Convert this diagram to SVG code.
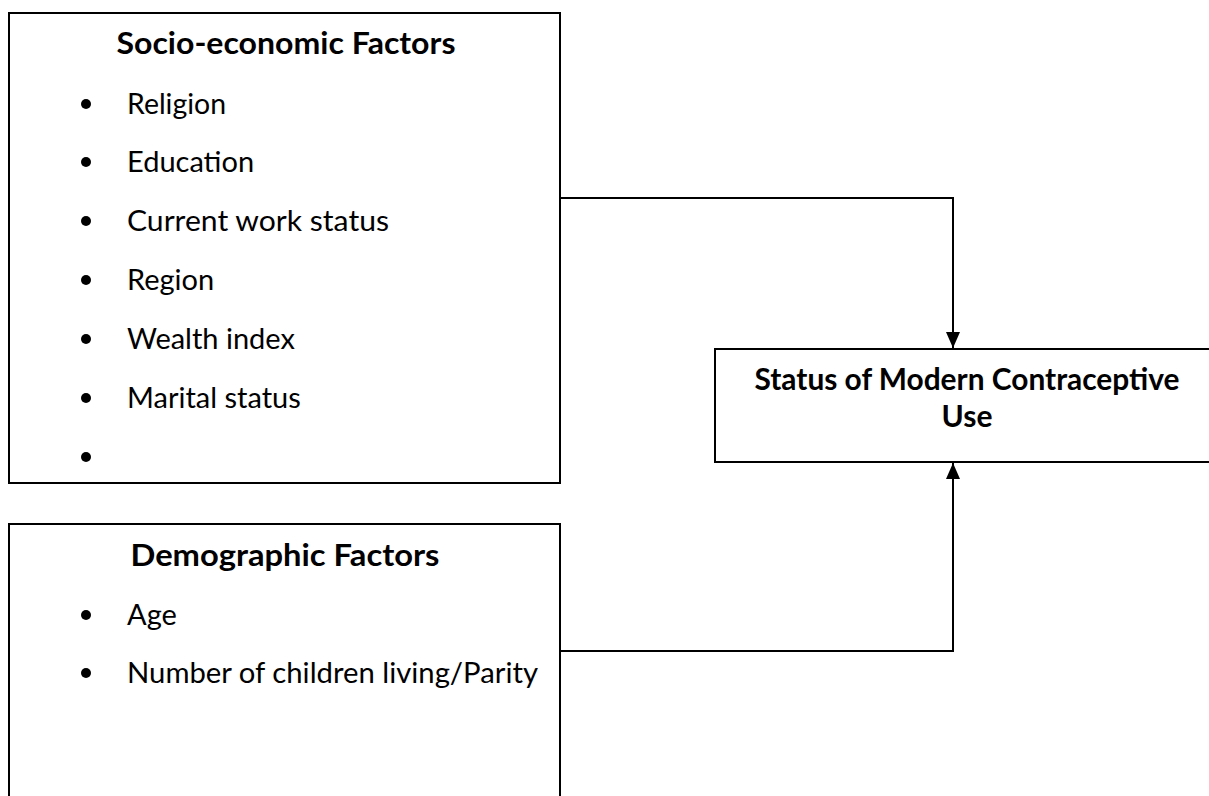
<svg xmlns="http://www.w3.org/2000/svg" width="1209" height="796" viewBox="0 0 1209 796">
<defs>
<style>
.box{fill:#fff;stroke:#000;stroke-width:2}
.t{font-family:Lato,"Liberation Sans",sans-serif;font-size:29px;fill:#000}
.h{font-family:Lato,"Liberation Sans",sans-serif;font-size:30px;font-weight:bold;fill:#000;text-anchor:middle}
.b{fill:#000}
.c{fill:none;stroke:#000;stroke-width:2}
</style>
<marker id="ah" viewBox="0 0 16 14" refX="16" refY="7" markerWidth="16" markerHeight="14" markerUnits="userSpaceOnUse" orient="auto">
<path d="M0,0 L16,7 L0,14 z" fill="#000"/>
</marker>
</defs>
<rect width="1209" height="796" fill="#fff"/>
<g id="socio">
<rect class="box" x="9" y="13" width="551" height="470"/>
<text class="h" x="286" y="54" textLength="339" lengthAdjust="spacingAndGlyphs">Socio-economic Factors</text>
<circle class="b" cx="86" cy="104" r="5"/><text class="t" x="127" y="114" textLength="99" lengthAdjust="spacingAndGlyphs">Religion</text>
<circle class="b" cx="86" cy="162" r="5"/><text class="t" x="127" y="172">Education</text>
<circle class="b" cx="86" cy="221" r="5"/><text class="t" x="127" y="231" textLength="262" lengthAdjust="spacingAndGlyphs">Current work status</text>
<circle class="b" cx="86" cy="280" r="5"/><text class="t" x="127" y="290">Region</text>
<circle class="b" cx="86" cy="339" r="5"/><text class="t" x="127" y="349">Wealth index</text>
<circle class="b" cx="86" cy="398" r="5"/><text class="t" x="127" y="408">Marital status</text>
<circle class="b" cx="86" cy="457" r="5"/>
</g>
<g id="demographic">
<rect class="box" x="9" y="524" width="551" height="300"/>
<text class="h" x="285" y="566" textLength="309" lengthAdjust="spacingAndGlyphs">Demographic Factors</text>
<circle class="b" cx="86" cy="615" r="5"/><text class="t" x="127" y="625">Age</text>
<circle class="b" cx="86" cy="673" r="5"/><text class="t" x="127" y="683" textLength="411" lengthAdjust="spacingAndGlyphs">Number of children living/Parity</text>
</g>
<g id="outcome">
<rect class="box" x="715" y="349" width="520" height="113"/>
<text class="h" x="967" y="390" textLength="425" lengthAdjust="spacingAndGlyphs">Status of Modern Contraceptive</text>
<text class="h" x="967" y="427">Use</text>
</g>
<g id="connectors">
<path class="c" d="M561,198 H953 V348" marker-end="url(#ah)"/>
<path class="c" d="M561,651 H953 V463" marker-end="url(#ah)"/>
</g>
</svg>
